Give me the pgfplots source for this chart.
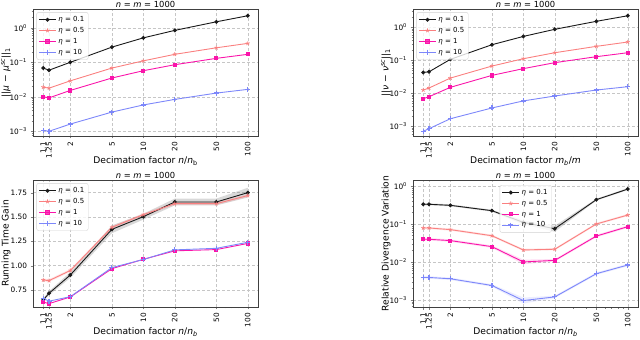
\documentclass[border=0pt]{standalone}
\usepackage{fontspec}
\setmainfont{DejaVu Sans}
\usepackage{pgfplots}
\pgfplotsset{compat=1.18}
\definecolor{cblack}{RGB}{25,25,25}
\definecolor{csalmon}{RGB}{250,128,128}
\definecolor{cmag}{RGB}{250,20,170}
\definecolor{cblue}{RGB}{125,135,250}
\newcommand{\tkfont}{\fontsize{7.4}{8.5}\selectfont}
\newcommand{\lgdfont}{\fontsize{7}{8.5}\selectfont}
\newcommand{\lblfont}{\fontsize{9.2}{10}\selectfont}
\newcommand{\ttlfont}{\fontsize{8.4}{9}\selectfont}
\pgfplotsset{
  every axis/.append style={
    scale only axis, width=225bp, height=127bp,
    enlarge x limits=0.05,
    xtick={1.1,1.25,2,5,10,20,50,100},
    xticklabels={1.1,1.25,2,5,10,20,50,100},
    minor xtick={3,4,6,7,8,9,30,40,60,70,80,90},
    xticklabel style={rotate=90, anchor=east, font=\tkfont},
    yticklabel style={font=\tkfont},
    tick align=outside, tick pos=left,
    major tick length=2.5bp, minor tick length=1.5bp,
    xmajorgrids, ymajorgrids,
    major grid style={densely dashed, gray!45, line width=0.3pt},
    axis line style={black!75, line width=0.5pt},
    every axis x label/.style={at={(axis description cs:0.5,0)}, anchor=center, yshift=-25bp, font=\lblfont},
    every axis y label/.style={at={(axis description cs:0,0.5)}, rotate=90, anchor=center, yshift=27bp, font=\lblfont},
    every axis title/.style={at={(axis description cs:0.5,1)}, anchor=base, yshift=1.8bp, inner sep=0pt, font=\ttlfont},
    title={\textit{n} = \textit{m} = 1000},
    legend cell align=left,
    legend style={font=\lgdfont, at={(0.015,0.975)}, anchor=north west,
      draw=gray!35, rounded corners=2pt, fill=white, fill opacity=0.8, text opacity=1,
      row sep=0.2pt, inner sep=2pt},
  },
  every axis plot/.append style={line width=0.9pt},
  serA/.style={cblack, mark=*, mark size=1.5pt},
  serB/.style={csalmon, mark=star, mark size=2.1pt, mark options={solid, line width=0.7pt}},
  serC/.style={cmag, mark=square*, mark size=1.6pt},
  serD/.style={cblue, mark=+, mark size=2.5pt, mark options={line width=1.2pt}},
}
\begin{document}
\begin{tikzpicture}
\useasboundingbox (0,0) rectangle (640bp,340bp);
% ---------------- plot 1
\begin{axis}[xmode=log, ymode=log, at={(33bp,204bp)}, anchor=south west,
  ymin=7.3e-4, ymax=3.5,
  ytick={1e-3,1e-2,1e-1,1},
  yticklabels={10\textsuperscript{−3},10\textsuperscript{−2},10\textsuperscript{−1},10\textsuperscript{0}},
  minor ytick={8e-4,9e-4,2e-3,3e-3,4e-3,5e-3,6e-3,7e-3,8e-3,9e-3,2e-2,3e-2,4e-2,5e-2,6e-2,7e-2,8e-2,9e-2,0.2,0.3,0.4,0.5,0.6,0.7,0.8,0.9,2,3},
  xlabel={Decimation factor \textit{n}/\textit{n}\textsubscript{b}},
  ylabel={||\textit{μ} − \textit{μ}\textsuperscript{\textit{sc}}||\textsubscript{1}}]
\addplot[serA] coordinates {(1.1,0.068)(1.25,0.059)(2,0.1)(5,0.275)(10,0.51)(20,0.84)(50,1.49)(100,2.23)};
\addlegendentry{\textit{η} = 0.1}
\addplot[serB] coordinates {(1.1,0.019)(1.25,0.0178)(2,0.029)(5,0.068)(10,0.11)(20,0.17)(50,0.263)(100,0.353)};
\addlegendentry{\textit{η} = 0.5}
\addplot[serC] coordinates {(1.1,0.01)(1.25,0.0093)(2,0.0153)(5,0.035)(10,0.057)(20,0.085)(50,0.13)(100,0.17)};
\addlegendentry{\textit{η} = 1}
\addplot[serD] coordinates {(1.1,0.00107)(1.25,0.001)(2,0.00162)(5,0.0036)(10,0.0058)(20,0.0084)(50,0.0128)(100,0.0164)};
\addlegendentry{\textit{η} = 10}
\end{axis}
% ---------------- plot 2
\begin{axis}[xmode=log, ymode=log, at={(413bp,204bp)}, anchor=south west,
  ymin=5.1e-4, ymax=3.59,
  ytick={1e-3,1e-2,1e-1,1},
  yticklabels={10\textsuperscript{−3},10\textsuperscript{−2},10\textsuperscript{−1},10\textsuperscript{0}},
  minor ytick={6e-4,7e-4,8e-4,9e-4,2e-3,3e-3,4e-3,5e-3,6e-3,7e-3,8e-3,9e-3,2e-2,3e-2,4e-2,5e-2,6e-2,7e-2,8e-2,9e-2,0.2,0.3,0.4,0.5,0.6,0.7,0.8,0.9,2,3},
  xlabel={Decimation factor \textit{m}\textsubscript{\textit{b}}/\textit{m}},
  ylabel={||\textit{ν} − \textit{ν}\textsuperscript{\textit{sc}}||\textsubscript{1}}]
\addplot[serA] coordinates {(1.1,0.043)(1.25,0.045)(2,0.107)(5,0.297)(10,0.53)(20,0.87)(50,1.52)(100,2.24)};
\addlegendentry{\textit{η} = 0.1}
\addplot[serB] coordinates {(1.1,0.0126)(1.25,0.0145)(2,0.029)(5,0.067)(10,0.112)(20,0.17)(50,0.265)(100,0.359)};
\addlegendentry{\textit{η} = 0.5}
\addplot[serC] coordinates {(1.1,0.0069)(1.25,0.0079)(2,0.0152)(5,0.035)(10,0.056)(20,0.085)(50,0.129)(100,0.17)};
\addlegendentry{\textit{η} = 1}
\addplot[serD] coordinates {(1.1,0.00071)(1.25,0.00085)(2,0.0017)(5,0.0036)(10,0.0059)(20,0.0083)(50,0.0126)(100,0.0159)};
\addlegendentry{\textit{η} = 10}
\end{axis}
% ---------------- plot 3
\begin{axis}[xmode=log, at={(33bp,33bp)}, anchor=south west,
  ymin=0.575, ymax=1.88,
  ytick={0.75,1.00,1.25,1.50,1.75},
  yticklabel style={/pgf/number format/fixed, /pgf/number format/fixed zerofill, /pgf/number format/precision=2, /pgf/number format/assume math mode=true},
  xlabel={Decimation factor \textit{n}/\textit{n}\textsubscript{\textit{b}}},
  ylabel={Running Time Gain}]
\addplot[draw=none, fill=gray, fill opacity=0.3, forget plot] coordinates {(1.1,0.662)(1.25,0.736)(2,0.934)(5,1.413)(10,1.533)(20,1.689)(50,1.689)(100,1.80)(100,1.70)(50,1.619)(20,1.619)(10,1.473)(5,1.333)(2,0.874)(1.25,0.696)(1.1,0.632)} -- cycle;
\addplot[draw=none, fill=csalmon, fill opacity=0.2, forget plot] coordinates {(1.1,0.868)(1.25,0.861)(2,0.965)(5,1.409)(10,1.539)(20,1.652)(50,1.652)(100,1.735)(100,1.705)(50,1.622)(20,1.622)(10,1.509)(5,1.379)(2,0.935)(1.25,0.831)(1.1,0.838)} -- cycle;
\addplot[serA] coordinates {(1.1,0.647)(1.25,0.716)(2,0.904)(5,1.373)(10,1.503)(20,1.654)(50,1.654)(100,1.75)};
\addlegendentry{\textit{η} = 0.1}
\addplot[serB] coordinates {(1.1,0.853)(1.25,0.846)(2,0.95)(5,1.394)(10,1.524)(20,1.637)(50,1.637)(100,1.72)};
\addlegendentry{\textit{η} = 0.5}
\addplot[serC] coordinates {(1.1,0.625)(1.25,0.61)(2,0.678)(5,0.969)(10,1.065)(20,1.152)(50,1.165)(100,1.228)};
\addlegendentry{\textit{η} = 1}
\addplot[serD] coordinates {(1.1,0.665)(1.25,0.635)(2,0.681)(5,0.98)(10,1.063)(20,1.162)(50,1.178)(100,1.24)};
\addlegendentry{\textit{η} = 10}
\end{axis}
% ---------------- plot 4
\begin{axis}[xmode=log, ymode=log, at={(413bp,33bp)}, anchor=south west,
  ymin=6.5e-4, ymax=1.44,
  ytick={1e-3,1e-2,1e-1,1},
  yticklabels={10\textsuperscript{−3},10\textsuperscript{−2},10\textsuperscript{−1},10\textsuperscript{0}},
  minor ytick={7e-4,8e-4,9e-4,2e-3,3e-3,4e-3,5e-3,6e-3,7e-3,8e-3,9e-3,2e-2,3e-2,4e-2,5e-2,6e-2,7e-2,8e-2,9e-2,0.2,0.3,0.4,0.5,0.6,0.7,0.8,0.9},
  legend style={at={(0.385,0.96)}, anchor=north west},
  xlabel={Decimation factor \textit{n}/\textit{n}\textsubscript{\textit{b}}},
  ylabel={Relative Divergence Variation}]
\addplot[draw=none, fill=gray, fill opacity=0.3, forget plot] coordinates {(1.1,0.35)(1.25,0.35)(2,0.329)(5,0.237)(10,0.123)(20,0.09)(50,0.463)(100,0.88)(100,0.783)(50,0.412)(20,0.0625)(10,0.098)(5,0.211)(2,0.292)(1.25,0.311)(1.1,0.311)} -- cycle;
\addplot[draw=none, fill=csalmon, fill opacity=0.2, forget plot] coordinates {(1.1,0.084)(1.25,0.084)(2,0.076)(5,0.0524)(10,0.0222)(20,0.0231)(50,0.107)(100,0.184)(100,0.161)(50,0.0935)(20,0.0202)(10,0.0193)(5,0.0458)(2,0.0664)(1.25,0.0734)(1.1,0.0734)} -- cycle;
\addplot[draw=none, fill=cmag, fill opacity=0.15, forget plot] coordinates {(1.1,0.0427)(1.25,0.0427)(2,0.0394)(5,0.0273)(10,0.0115)(20,0.0119)(50,0.0518)(100,0.0918)(100,0.0787)(50,0.0444)(20,0.0102)(10,0.0087)(5,0.0234)(2,0.0338)(1.25,0.0366)(1.1,0.0366)} -- cycle;
\addplot[draw=none, fill=cblue, fill opacity=0.15, forget plot] coordinates {(1.1,0.00421)(1.25,0.00421)(2,0.00389)(5,0.00259)(10,0.00115)(20,0.0013)(50,0.00529)(100,0.00896)(100,0.00769)(50,0.00454)(20,0.00111)(10,0.0008)(5,0.00222)(2,0.00333)(1.25,0.00361)(1.1,0.00361)} -- cycle;
\addplot[serA] coordinates {(1.1,0.33)(1.25,0.33)(2,0.31)(5,0.224)(10,0.11)(20,0.075)(50,0.437)(100,0.83)};
\addlegendentry{\textit{η} = 0.1}
\addplot[serB] coordinates {(1.1,0.0785)(1.25,0.0785)(2,0.071)(5,0.049)(10,0.0207)(20,0.0216)(50,0.1)(100,0.172)};
\addlegendentry{\textit{η} = 0.5}
\addplot[serC] coordinates {(1.1,0.0395)(1.25,0.0395)(2,0.0365)(5,0.0253)(10,0.01)(20,0.011)(50,0.048)(100,0.085)};
\addlegendentry{\textit{η} = 1}
\addplot[serD] coordinates {(1.1,0.0039)(1.25,0.0039)(2,0.0036)(5,0.0024)(10,0.00096)(20,0.0012)(50,0.0049)(100,0.0083)};
\addlegendentry{\textit{η} = 10}
\end{axis}
\end{tikzpicture}
\end{document}
